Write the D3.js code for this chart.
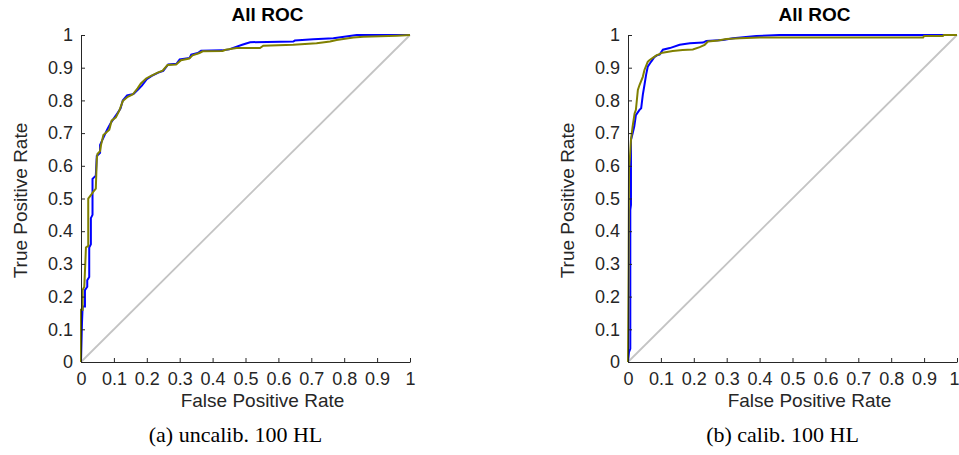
<!DOCTYPE html>
<html>
<head>
<meta charset="utf-8">
<script src="https://cdn.jsdelivr.net/npm/d3@7"></script>
<style>
  body { margin: 0; background: #fff; }
  .tick text { font-family: "Liberation Sans", Arial, sans-serif; fill: #262626; }
</style>
</head>
<body>
<svg id="chart" width="959" height="455"></svg>
<script>
// tick values shared by both panels
var tickVals = [0, 0.1, 0.2, 0.3, 0.4, 0.5, 0.6, 0.7, 0.8, 0.9, 1];

// (a) uncalibrated ROC curves, [fpr, tpr]
var uncalibBlue = [[0,0],[0.003,0.12],[0.005,0.17],[0.012,0.17],[0.012,0.22],[0.019,0.23],[0.019,0.25],[0.025,0.26],[0.025,0.35],[0.03,0.36],[0.03,0.44],[0.035,0.45],[0.035,0.56],[0.045,0.57],[0.048,0.63],[0.058,0.64],[0.058,0.664],[0.07,0.69],[0.079,0.71],[0.09,0.73],[0.1,0.745],[0.11,0.76],[0.12,0.775],[0.127,0.8],[0.14,0.815],[0.16,0.82],[0.175,0.835],[0.185,0.845],[0.2,0.865],[0.215,0.875],[0.235,0.885],[0.25,0.89],[0.265,0.91],[0.29,0.912],[0.3,0.925],[0.33,0.93],[0.335,0.94],[0.355,0.945],[0.365,0.952],[0.43,0.953],[0.45,0.956],[0.49,0.97],[0.514,0.978],[0.645,0.98],[0.65,0.983],[0.706,0.987],[0.767,0.99],[0.838,1],[1,1]];
var uncalibOlive = [[0,0],[0,0.16],[0.005,0.16],[0.005,0.22],[0.01,0.23],[0.013,0.3],[0.015,0.35],[0.022,0.355],[0.022,0.5],[0.03,0.51],[0.037,0.52],[0.045,0.53],[0.048,0.62],[0.05,0.636],[0.058,0.645],[0.061,0.664],[0.068,0.694],[0.075,0.7],[0.086,0.71],[0.093,0.738],[0.106,0.748],[0.117,0.77],[0.127,0.798],[0.142,0.811],[0.157,0.818],[0.172,0.837],[0.182,0.852],[0.198,0.867],[0.213,0.875],[0.233,0.885],[0.248,0.891],[0.263,0.908],[0.289,0.91],[0.304,0.923],[0.329,0.928],[0.339,0.938],[0.36,0.945],[0.37,0.95],[0.43,0.951],[0.44,0.955],[0.473,0.96],[0.544,0.96],[0.554,0.967],[0.645,0.97],[0.716,0.975],[0.757,0.98],[0.777,0.985],[0.828,0.992],[0.858,0.995],[0.96,0.998],[1,1]];

// (b) calibrated ROC curves
var calibBlue = [[0,0],[0.003,0.03],[0.007,0.04],[0.007,0.465],[0.009,0.48],[0.009,0.679],[0.014,0.699],[0.019,0.72],[0.024,0.755],[0.035,0.771],[0.04,0.776],[0.045,0.817],[0.05,0.847],[0.055,0.878],[0.06,0.903],[0.07,0.918],[0.08,0.932],[0.09,0.939],[0.096,0.94],[0.106,0.955],[0.127,0.96],[0.157,0.97],[0.188,0.975],[0.228,0.977],[0.238,0.982],[0.289,0.985],[0.319,0.99],[0.39,0.997],[0.46,1],[1,1]];
var calibOlive = [[0,0],[0.002,0.3],[0.003,0.587],[0.006,0.628],[0.009,0.679],[0.014,0.72],[0.02,0.76],[0.024,0.771],[0.03,0.832],[0.035,0.847],[0.045,0.872],[0.05,0.893],[0.06,0.918],[0.065,0.923],[0.085,0.937],[0.105,0.946],[0.136,0.951],[0.166,0.954],[0.197,0.956],[0.218,0.963],[0.233,0.97],[0.243,0.98],[0.274,0.983],[0.299,0.988],[0.34,0.99],[0.4,0.992],[0.897,0.992],[0.9,0.997],[0.957,0.997],[0.96,1],[1,1]];

var chanceLine = [[0,0],[1,1]];

var panels = [
  {left: 81, blue: uncalibBlue, olive: uncalibOlive, caption: "(a) uncalib. 100 HL"},
  {left: 628, blue: calibBlue, olive: calibOlive, caption: "(b) calib. 100 HL"}
];

var pw = 329, plotTop = 35, ph = 327;
var svg = d3.select("#chart");

panels.forEach(function(p, i) {
  var x = d3.scaleLinear().domain([0, 1]).range([0, pw]);
  var y = d3.scaleLinear().domain([0, 1]).range([ph, 0]);
  var line = d3.line().x(function(d) { return x(d[0]); }).y(function(d) { return y(d[1]); });

  var g = svg.append("g").attr("transform", "translate(" + p.left + "," + plotTop + ")");

  g.append("path").datum(chanceLine).attr("d", line)
    .attr("fill", "none").attr("stroke", "#c4c4c4").attr("stroke-width", 1.8);
  g.append("path").datum(p.blue).attr("d", line)
    .attr("fill", "none").attr("stroke", "#0000ff").attr("stroke-width", 2);
  g.append("path").datum(p.olive).attr("d", line)
    .attr("fill", "none").attr("stroke", "#808000").attr("stroke-width", 2);

  // matlab style axes: ticks point inward
  var xa = g.append("g").attr("transform", "translate(0," + ph + ")")
    .call(d3.axisBottom(x).tickValues(tickVals).tickFormat(d3.format("")).tickSizeInner(-4).tickSizeOuter(0).tickPadding(10));
  var ya = g.append("g")
    .call(d3.axisLeft(y).tickValues(tickVals).tickFormat(d3.format("")).tickSizeInner(-4).tickSizeOuter(0).tickPadding(8));
  [xa, ya].forEach(function(a) {
    a.select(".domain").attr("stroke", "#262626");
    a.selectAll(".tick line").attr("stroke", "#262626");
    a.selectAll(".tick text").attr("font-size", 18);
  });
  // the last label of the right panel sits at the page edge
  if (i == 1) xa.selectAll(".tick text").filter(function(d) { return d == 1; }).attr("dx", -3);

  g.append("text").attr("x", pw / 2 + 22).attr("y", -14)
    .attr("text-anchor", "middle").attr("font-family", "Liberation Sans, Arial, sans-serif")
    .attr("font-weight", "bold").attr("font-size", 19).attr("fill", "#000").text("All ROC");

  g.append("text").attr("x", pw / 2 + 17).attr("y", ph + 45)
    .attr("text-anchor", "middle").attr("font-family", "Liberation Sans, Arial, sans-serif")
    .attr("font-size", 19).attr("fill", "#262626").text("False Positive Rate");

  g.append("text").attr("transform", "translate(-54," + (ph / 2 + 2) + ") rotate(-90)")
    .attr("text-anchor", "middle").attr("font-family", "Liberation Sans, Arial, sans-serif")
    .attr("font-size", 19).attr("fill", "#262626").text("True Positive Rate");

  g.append("text").attr("x", pw / 2 - 10).attr("y", ph + 80)
    .attr("text-anchor", "middle").attr("font-family", "Liberation Serif, serif")
    .attr("font-size", 22).attr("fill", "#000").text(p.caption);
});
</script>
</body>
</html>
